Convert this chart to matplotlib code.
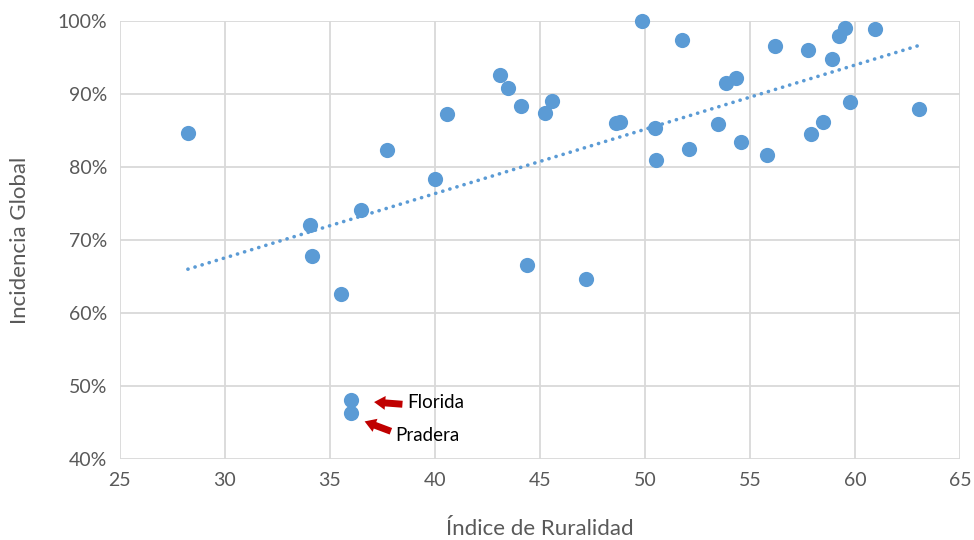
import matplotlib
matplotlib.use("Agg")
import matplotlib.pyplot as plt
import numpy as np

ruralidad = [28.24, 34.05, 34.14, 35.52, 36.48, 37.71, 40.0, 40.57, 36.0, 36.0,
             43.1, 43.48, 44.1, 44.38, 45.24, 45.57, 47.19, 48.6, 48.8, 49.86,
             50.48, 50.52, 51.76, 52.1, 53.48, 53.86, 54.33, 54.57, 55.8, 56.19,
             57.76, 57.9, 58.48, 58.9, 59.24, 59.52, 59.76, 60.95, 63.05]
incidencia = [84.6, 72.1, 67.8, 62.6, 74.1, 82.3, 78.4, 87.2, 48.1, 46.3,
              92.6, 90.8, 88.4, 66.6, 87.4, 89.0, 64.6, 86.1, 86.2, 100.0,
              85.3, 81.0, 97.4, 82.5, 85.9, 91.5, 92.2, 83.4, 81.6, 96.6,
              96.1, 84.5, 86.2, 94.8, 98.0, 99.1, 88.9, 98.9, 87.9]

x_ticks = [25, 30, 35, 40, 45, 50, 55, 60, 65]
y_ticks = [40, 50, 60, 70, 80, 90, 100]

plt.rcParams['font.family'] = ['Lato', 'DejaVu Sans']

fig = plt.figure(figsize=(9.74, 5.4), dpi=100)
ax = fig.add_axes([0.123, 0.15, 0.863, 0.811])

x = np.array(ruralidad)
y = np.array(incidencia)
ax.scatter(x, y, s=120, color='#5B9BD5', zorder=3, clip_on=False, linewidths=0)

m, b = np.polyfit(x, y, 1)
xl = np.array([x.min(), x.max()])
ax.plot(xl, m * xl + b, linestyle=(0, (0.05, 2.0)), color='#5B9BD5', lw=2.6,
        dash_capstyle='round', solid_capstyle='round', zorder=2)

ax.set_xlim(25, 65)
ax.set_ylim(40, 100)
ax.set_xticks(x_ticks)
ax.set_yticks(y_ticks)
ax.set_yticklabels([f"{v}%" for v in y_ticks])
ax.grid(True, color='#D9D9D9', lw=1.3, zorder=0)
ax.set_axisbelow(True)
for s in ax.spines.values():
    s.set_visible(False)
ax.tick_params(length=0, labelsize=14, colors='#595959', pad=9)

ax.set_xlabel('Índice de Ruralidad', fontsize=16, color='#595959', labelpad=22)
ax.set_ylabel('Incidencia Global', fontsize=16, color='#595959', labelpad=20)

arrow = dict(arrowstyle='simple,head_length=0.8,head_width=1.0,tail_width=0.5',
             color='#C00000', lw=0, shrinkA=0, shrinkB=0)
ax.annotate('', xy=(37.1, 47.8), xytext=(38.45, 47.5), arrowprops=arrow)
ax.text(38.7, 47.7, 'Florida', fontsize=13.5, color='black', va='center', ha='left')
ax.annotate('', xy=(36.65, 45.15), xytext=(37.9, 43.8), arrowprops=arrow)
ax.text(38.1, 43.2, 'Pradera', fontsize=13.5, color='black', va='center', ha='left')

fig.savefig('out.png', dpi=100)
